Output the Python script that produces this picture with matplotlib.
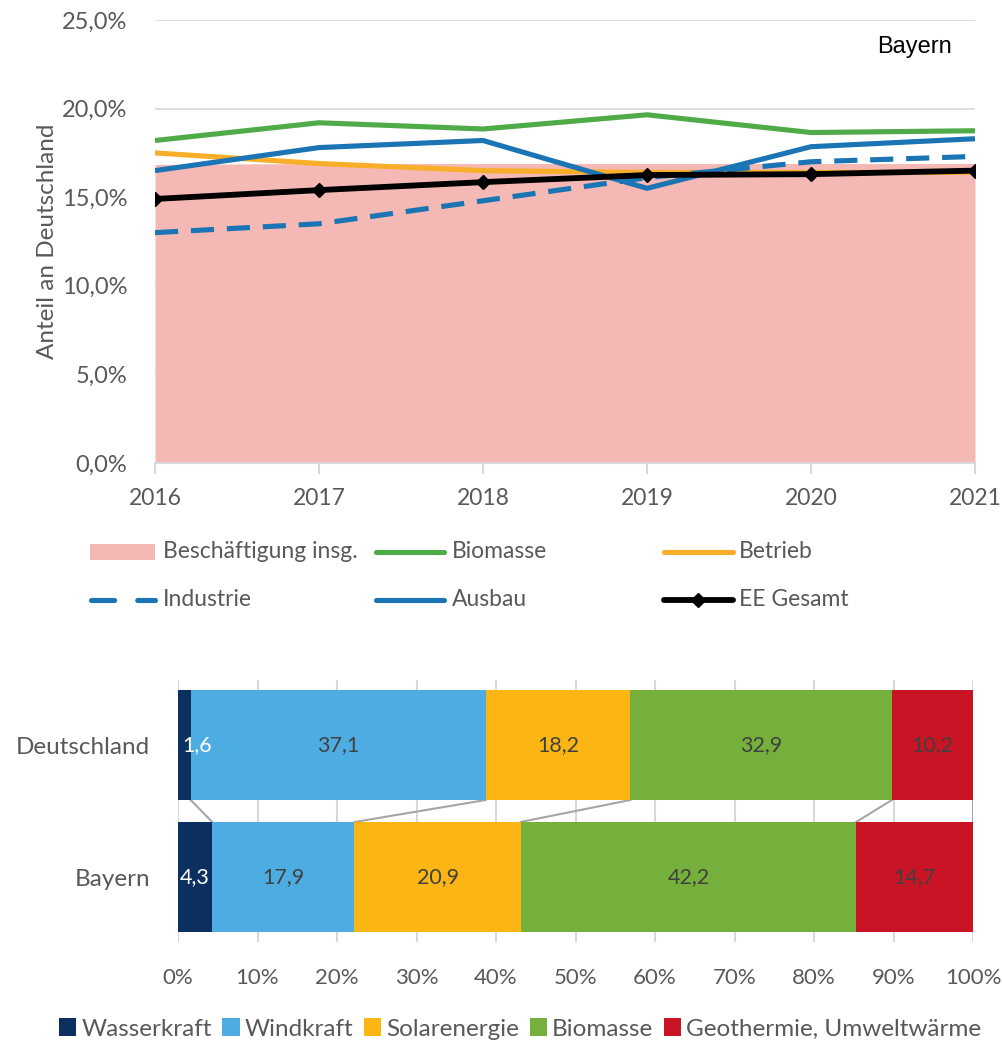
import matplotlib
matplotlib.use('Agg')
import matplotlib.pyplot as plt
from matplotlib.lines import Line2D
from matplotlib.patches import Rectangle, Patch
from matplotlib.ticker import FuncFormatter

plt.rcParams['font.family'] = ['Lato', 'DejaVu Sans']

# ---------------- data ----------------
years = [2016, 2017, 2018, 2019, 2020, 2021]
beschaeftigung = [16.85, 16.9, 16.9, 16.9, 16.9, 16.9]
biomasse = [18.2, 19.2, 18.85, 19.65, 18.65, 18.75]
betrieb = [17.5, 16.9, 16.5, 16.4, 16.4, 16.4]
industrie = [13.0, 13.5, 14.8, 16.1, 17.0, 17.3]
ausbau = [16.5, 17.8, 18.2, 15.5, 17.85, 18.3]
ee_gesamt = [14.9, 15.4, 15.85, 16.25, 16.3, 16.5]

regions = ['Bayern', 'Deutschland']
techs = ['Wasserkraft', 'Windkraft', 'Solarenergie', 'Biomasse', 'Geothermie, Umweltwärme']
share_deutschland = [1.6, 37.1, 18.2, 32.9, 10.2]
share_bayern = [4.3, 17.9, 20.9, 42.2, 14.7]

# ---------------- styles ----------------
GRAY_TXT = '#595959'
GRID = '#D9D9D9'
c_pink = '#F4B9B5'
c_green = '#4EAB48'
c_orange = '#F9AE2A'
c_blue = '#1B75B5'
c_black = '#000000'
tech_colors = ['#0B3060', '#4DADE2', '#FBB614', '#74B03B', '#C91425']
label_colors = ['white', '#404040', '#404040', '#404040', '#404040']

W, H = 1003, 1042
fig = plt.figure(figsize=(W / 100, H / 100), dpi=100)


def fx(x):
    return x / W


def fy(y):
    return 1 - y / H


# ---------------- top chart ----------------
ax = fig.add_axes([fx(155), fy(463), fx(975 - 155), (463 - 20) / H])
ax.fill_between(years, 0, beschaeftigung, color=c_pink, lw=0, zorder=1)
ax.plot(years, biomasse, color=c_green, lw=3.7, zorder=3, solid_capstyle='butt')
ax.plot(years, betrieb, color=c_orange, lw=3.7, zorder=2.5, solid_capstyle='butt')
ax.plot(years, industrie, color=c_blue, lw=3.7, zorder=3, dashes=(4.5, 2.5))
ax.plot(years, ausbau, color=c_blue, lw=3.7, zorder=3.2, solid_capstyle='butt')
ax.plot(years, ee_gesamt, color=c_black, lw=4.2, marker='D', markersize=7, zorder=4)

ax.set_xlim(2016, 2021)
ax.set_ylim(0, 25)
ax.set_yticks([0, 5, 10, 15, 20, 25])
ax.yaxis.set_major_formatter(FuncFormatter(lambda v, p: f"{v:.1f}".replace('.', ',') + '%'))
ax.set_xticks(years)
ax.grid(axis='y', color=GRID, lw=1.2, zorder=0)
ax.set_axisbelow(True)
for s in ['top', 'right', 'left']:
    ax.spines[s].set_visible(False)
ax.spines['bottom'].set_color(GRID)
ax.spines['bottom'].set_linewidth(1.5)
ax.tick_params(axis='y', length=0, pad=20, labelsize=17, labelcolor=GRAY_TXT)
ax.tick_params(axis='x', length=8, width=1.5, color=GRID, pad=10, labelsize=16.5, labelcolor=GRAY_TXT)
ax.set_ylabel('Anteil an Deutschland', fontsize=17.5, color=GRAY_TXT, labelpad=3)
fig.text(fx(915), fy(47), 'Bayern', fontsize=17, family='Liberation Sans', color='black',
         ha='center', va='center')

# ---- top legend (manual) ----
row1, row2 = 552, 600
fs_leg = 16.5
fig.add_artist(Rectangle((fx(90), fy(row1 + 8)), fx(65), 16 / H, color=c_pink, lw=0,
                         transform=fig.transFigure))
fig.text(fx(163), fy(row1), 'Beschäftigung insg.', fontsize=fs_leg, color=GRAY_TXT, va='center')
fig.add_artist(Line2D([fx(376), fx(444)], [fy(row1), fy(row1)], color=c_green, lw=3.7,
                      solid_capstyle='round', transform=fig.transFigure))
fig.text(fx(452), fy(row1), 'Biomasse', fontsize=fs_leg, color=GRAY_TXT, va='center')
fig.add_artist(Line2D([fx(664), fx(733)], [fy(row1), fy(row1)], color=c_orange, lw=3.7,
                      solid_capstyle='round', transform=fig.transFigure))
fig.text(fx(739), fy(row1), 'Betrieb', fontsize=fs_leg, color=GRAY_TXT, va='center')

fig.add_artist(Line2D([fx(91), fx(155)], [fy(row2), fy(row2)], color=c_blue, lw=3.7,
                      dashes=(4.5, 4.5), dash_capstyle='round', transform=fig.transFigure))
fig.text(fx(163), fy(row2), 'Industrie', fontsize=fs_leg, color=GRAY_TXT, va='center')
fig.add_artist(Line2D([fx(376), fx(444)], [fy(row2), fy(row2)], color=c_blue, lw=3.7,
                      solid_capstyle='round', transform=fig.transFigure))
fig.text(fx(452), fy(row2), 'Ausbau', fontsize=fs_leg, color=GRAY_TXT, va='center')
fig.add_artist(Line2D([fx(664), fx(733)], [fy(row2), fy(row2)], color=c_black, lw=4.2,
                      solid_capstyle='round', transform=fig.transFigure))
fig.add_artist(Line2D([fx(698.5)], [fy(row2)], color=c_black, marker='D', markersize=7,
                      transform=fig.transFigure))
fig.text(fx(739), fy(row2), 'EE Gesamt', fontsize=fs_leg, color=GRAY_TXT, va='center')

# ---------------- bottom chart ----------------
ax2 = fig.add_axes([fx(178), fy(942), fx(973 - 178), (942 - 680) / H])
bh = 110 / 132
ypos = [0, 1]
shares = [share_bayern, share_deutschland]
cum = []
for yi, vals in zip(ypos, shares):
    left = 0
    c = []
    for k, v in enumerate(vals):
        ax2.barh(yi, v, left=left, height=bh, color=tech_colors[k], lw=0, zorder=2)
        lbl = f"{v:.1f}".replace('.', ',')
        if v < 3:
            # narrow segment: keep label inside the plot area (as the original does)
            ax2.annotate(lbl, (left, yi), xytext=(3, 0), textcoords='offset points',
                         ha='left', va='center', fontsize=15.5, color=label_colors[k], zorder=4)
        else:
            ax2.text(left + v / 2, yi, lbl, ha='center', va='center',
                     fontsize=15.5, color=label_colors[k], zorder=4)
        left += v
        c.append(left)
    cum.append(c)

for k in range(5):
    ax2.plot([cum[1][k], cum[0][k]], [1 - bh / 2, 0 + bh / 2], color='#A6A6A6', lw=1.5, zorder=1.5)

ax2.set_xlim(0, 100)
ax2.set_ylim(-(942 - 877) / 132, 1 + (745 - 680) / 132)
ax2.set_xticks(range(0, 101, 10))
ax2.set_xticklabels([f"{v}%" for v in range(0, 101, 10)])
ax2.set_yticks(ypos)
ax2.set_yticklabels(regions)
ax2.grid(axis='x', color=GRID, lw=1.5, zorder=0)
ax2.set_axisbelow(True)
for s in ax2.spines.values():
    s.set_visible(False)
ax2.tick_params(axis='x', length=0, pad=19, labelsize=16, labelcolor=GRAY_TXT)
ax2.tick_params(axis='y', length=0, pad=20, labelsize=17.5, labelcolor=GRAY_TXT)

handles = [Patch(facecolor=c, edgecolor='none', label=t) for c, t in zip(tech_colors, techs)]
fig.legend(handles=handles, loc='center', bbox_to_anchor=(fx(520), fy(1029)), ncol=5,
           frameon=False, fontsize=17.5, handlelength=0.7, handleheight=0.7,
           handletextpad=0.2, columnspacing=0.45, labelcolor=GRAY_TXT, borderaxespad=0)

fig.savefig('out.png', dpi=100)
